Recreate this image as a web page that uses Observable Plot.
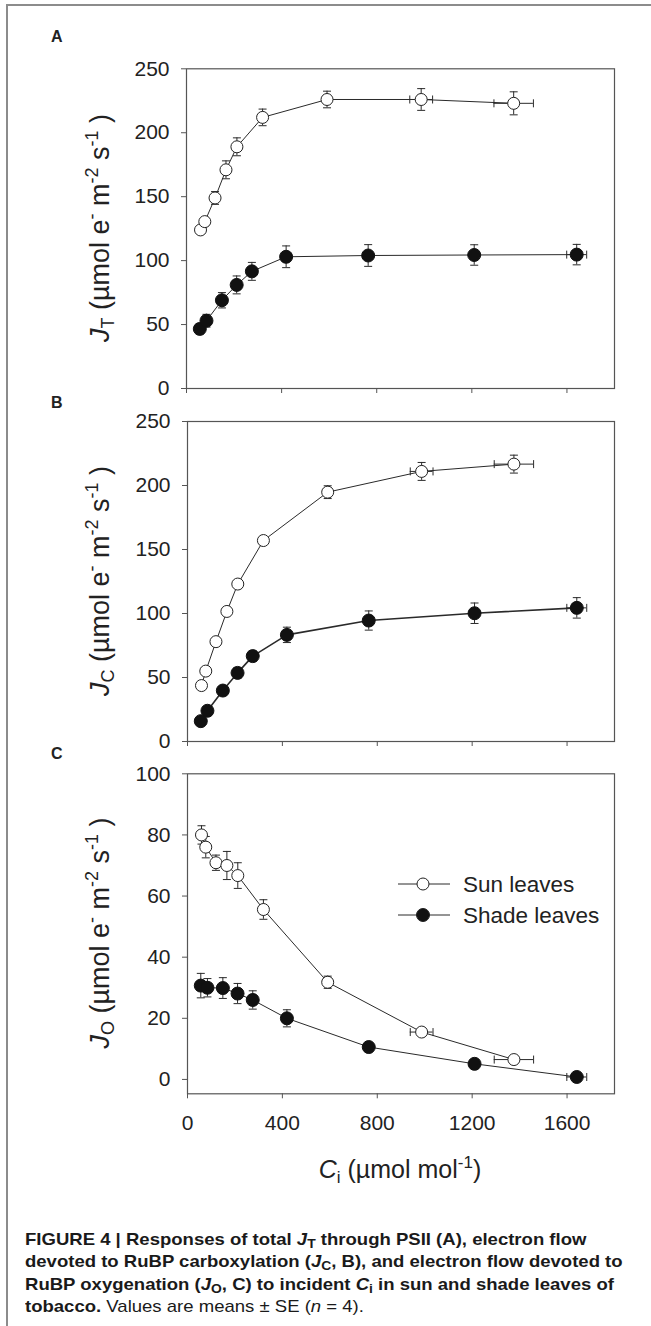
<!DOCTYPE html>
<html><head><meta charset="utf-8">
<script src="https://cdn.jsdelivr.net/npm/d3@7"></script>
<script src="https://cdn.jsdelivr.net/npm/@observablehq/plot@0.6"></script>
<style>
body{margin:0;background:#fff;}
#fig{position:relative;width:651px;height:1326px;overflow:hidden;font-family:"Liberation Sans",Arial,sans-serif;background:#fff;}
#border{position:absolute;left:6px;top:4px;right:-10px;bottom:-10px;border-top:2px solid #8c8c8c;border-left:2px solid #8c8c8c;}
.panel{position:absolute;left:0;}
#overlay{position:absolute;left:0;top:0;pointer-events:none;}
#caption{position:absolute;left:25px;top:1229px;font-size:17px;line-height:22.4px;font-weight:bold;color:#1a1a1a;white-space:nowrap;transform:scaleX(1.09);transform-origin:0 0;}
#caption sub{font-size:75%;vertical-align:-0.25em;line-height:0;}
#caption .n{font-weight:normal;}
</style></head><body>
<div id="fig"><div id="border"></div>
<div id="caption">FIGURE 4 | Responses of total <i>J</i><sub>T</sub> through PSII (A), electron flow<br>devoted to RuBP carboxylation (<i>J</i><sub>C</sub>, B), and electron flow devoted to<br>RuBP oxygenation (<i>J</i><sub>O</sub>, C) to incident <i>C</i><sub>i</sub> in sun and shade leaves of<br>tobacco.<span class="n"> Values are means ± SE (<i>n</i> = 4).</span></div>
</div>
<script>
// Ci (x) values
const sunCi = [59, 77, 120, 166, 212, 320, 591, 987, 1376];
const sunCiSE = [0, 0, 0, 0, 0, 0, 0, 48, 83];
const shadeCi = [56, 84, 149, 211, 275, 419, 764, 1210, 1641];
const shadeCiSE = [0, 0, 0, 0, 0, 0, 0, 0, 42];
// Panel A: JT
const sunJT = [124, 130.5, 149, 171, 189, 212, 226, 226, 223];
const sunJTse = [2, 3, 5, 7, 7, 6.5, 6.5, 8.5, 9];
const shadeJT = [46.6, 53, 69, 81, 91.6, 103, 104, 104.4, 104.7];
const shadeJTse = [4, 5, 6, 7, 7, 8.5, 8.5, 8, 8];
// Panel B: JC
const sunJC = [43.7, 55, 78, 101.6, 123, 157, 194.8, 211, 216.7];
const sunJCse = [1, 1, 1, 1, 1, 1, 5, 7, 7];
const shadeJC = [15.9, 24, 39.8, 53.6, 66.7, 83.3, 94.5, 100.2, 104.4];
const shadeJCse = [2, 2, 3, 4, 4, 6, 7.5, 8, 8];
// Panel C: JO
const sunJO = [80, 76, 70.9, 70, 66.7, 55.6, 31.8, 15.5, 6.5];
const sunJOse = [3, 3.5, 2.5, 4.6, 4.2, 3.2, 2, 1, 1];
const shadeJO = [30.7, 30, 29.9, 28.1, 26, 20, 10.6, 5.1, 0.8];
const shadeJOse = [4, 3, 3.4, 3.3, 3, 2.8, 0.5, 0.5, 0.5];
// ticks
const xTicks = [0, 400, 800, 1200, 1600];
const yTicksJ = [0, 50, 100, 150, 200, 250];
const yTicksO = [0, 20, 40, 60, 80, 100];
const seriesNames = ["Sun leaves", "Shade leaves"];

const capH = {draw(ctx, size){const r = Math.sqrt(size/Math.PI); ctx.moveTo(-r,0); ctx.lineTo(r,0);}};
const capV = {draw(ctx, size){const r = Math.sqrt(size/Math.PI); ctx.moveTo(0,-r); ctx.lineTo(0,r);}};

function panel({top, height, mt, mb, ml, yDomain, yTicks, sunY, sunE, shadeY, shadeE, xLabels, shadeW}) {
  const sun = sunCi.map((x,i)=>({x, xe: sunCiSE[i], y: sunY[i], ye: sunE[i]}));
  const shade = shadeCi.map((x,i)=>({x, xe: shadeCiSE[i], y: shadeY[i], ye: shadeE[i]}));
  const all = [...sun, ...shade];
  const ye = all.filter(d=>d.ye>0);
  const xe = all.filter(d=>d.xe>0);
  const ink = "#2a2a2a";
  const chart = Plot.plot({
    width: 651, height, marginTop: mt, marginBottom: mb, marginLeft: ml, marginRight: 37,
    x: {domain: [0, 1800]},
    y: {domain: yDomain},
    style: {fontFamily: '"Liberation Sans", Arial, sans-serif', fontSize: "21px", color: "#222", background: "transparent", overflow: "visible"},
    marks: [
      Plot.line(sun, {x: "x", y: "y", stroke: ink, strokeWidth: 1}),
      Plot.line(shade, {x: "x", y: "y", stroke: ink, strokeWidth: shadeW}),
      Plot.ruleX(ye, {x: "x", y1: d=>d.y-d.ye, y2: d=>d.y+d.ye, stroke: ink, strokeWidth: 1}),
      Plot.dot(ye, {x: "x", y: d=>d.y+d.ye, symbol: capH, r: 4, stroke: ink, strokeWidth: 1}),
      Plot.dot(ye, {x: "x", y: d=>d.y-d.ye, symbol: capH, r: 4, stroke: ink, strokeWidth: 1}),
      Plot.ruleY(xe, {y: "y", x1: d=>d.x-d.xe, x2: d=>d.x+d.xe, stroke: ink, strokeWidth: 1}),
      Plot.dot(xe, {x: d=>d.x+d.xe, y: "y", symbol: capV, r: 4, stroke: ink, strokeWidth: 1}),
      Plot.dot(xe, {x: d=>d.x-d.xe, y: "y", symbol: capV, r: 4, stroke: ink, strokeWidth: 1}),
      Plot.dot(sun, {x: "x", y: "y", r: 6, fill: "white", stroke: "#222", strokeWidth: 1}),
      Plot.dot(shade, {x: "x", y: "y", r: 6.5, fill: "#111", stroke: "#111", strokeWidth: 1}),
      Plot.frame({stroke: "#555", strokeWidth: 1.2}),
      Plot.axisY({ticks: yTicks, tickSize: 5, tickPadding: 12, fontSize: 21, label: null, stroke: "#555"}),
      Plot.axisX({ticks: xTicks, tickSize: 5, tickPadding: 16, fontSize: 21, label: null, stroke: "#555",
        tickFormat: xLabels ? (d=>String(d)) : (()=>"")})
    ]
  });
  chart.classList.add("panel");
  chart.style.top = top + "px";
  document.getElementById("fig").appendChild(chart);
}

panel({top: 0, height: 400, mt: 68.3, mb: 12, ml: 186, yDomain: [0, 250], yTicks: yTicksJ,
  sunY: sunJT, sunE: sunJTse, shadeY: shadeJT, shadeE: shadeJTse, xLabels: false, shadeW: 1});
panel({top: 400, height: 353, mt: 21, mb: 12, ml: 187, yDomain: [0, 250], yTicks: yTicksJ,
  sunY: sunJC, sunE: sunJCse, shadeY: shadeJC, shadeE: shadeJCse, xLabels: false, shadeW: 1.6});
panel({top: 753, height: 442, mt: 20.3, mb: 101.7, ml: 187, yDomain: [-4.7, 100], yTicks: yTicksO,
  sunY: sunJO, sunE: sunJOse, shadeY: shadeJO, shadeE: shadeJOse, xLabels: true, shadeW: 1});

// overlay: panel letters, axis titles, legend
const ov = d3.select("#fig").append("svg").attr("id","overlay").attr("width",651).attr("height",1326)
  .style("font-family",'"Liberation Sans", Arial, sans-serif').style("fill","#222");
[["A",42],["B",408],["C",759]].forEach(([t,y])=>{
  ov.append("text").attr("x",51).attr("y",y).attr("font-size",16).attr("font-weight","bold").text(t);
});
function ylab(cy, sub){
  const t = ov.append("text").attr("transform",`translate(100,${cy}) rotate(-90)`).attr("text-anchor","middle")
    .attr("dy","0.35em").attr("font-size",27);
  t.append("tspan").attr("font-style","italic").text("J");
  t.append("tspan").attr("font-size",18).attr("dy",5).text(sub);
  t.append("tspan").attr("dy",-5).text(" (µmol e");
  t.append("tspan").attr("font-size",18).attr("dy",-11).text("-");
  t.append("tspan").attr("dy",11).text(" m");
  t.append("tspan").attr("font-size",18).attr("dy",-11).text("-2");
  t.append("tspan").attr("dy",11).text(" s");
  t.append("tspan").attr("font-size",18).attr("dy",-11).text("-1");
  t.append("tspan").attr("dy",11).text(" )");
}
ylab(228, "T"); ylab(581, "C"); ylab(933, "O");
{
  const t = ov.append("text").attr("x",400).attr("y",1178).attr("text-anchor","middle").attr("font-size",25);
  t.append("tspan").attr("font-style","italic").text("C");
  t.append("tspan").attr("font-size",17).attr("dy",5).text("i");
  t.append("tspan").attr("dy",-5).text(" (µmol mol");
  t.append("tspan").attr("font-size",17).attr("dy",-10).text("-1");
  t.append("tspan").attr("dy",10).text(")");
}
// legend
[[884,"white"],[915,"#111"]].forEach(([y,fill],i)=>{
  ov.append("line").attr("x1",398).attr("x2",450).attr("y1",y).attr("y2",y).attr("stroke","#2a2a2a").attr("stroke-width",1);
  ov.append("circle").attr("cx",423).attr("cy",y).attr("r",i?6.5:6).attr("fill",fill).attr("stroke","#222");
  ov.append("text").attr("x",463).attr("y",y).attr("dy","0.36em").attr("font-size",22.5).text(seriesNames[i]);
});
</script>
</body></html>
